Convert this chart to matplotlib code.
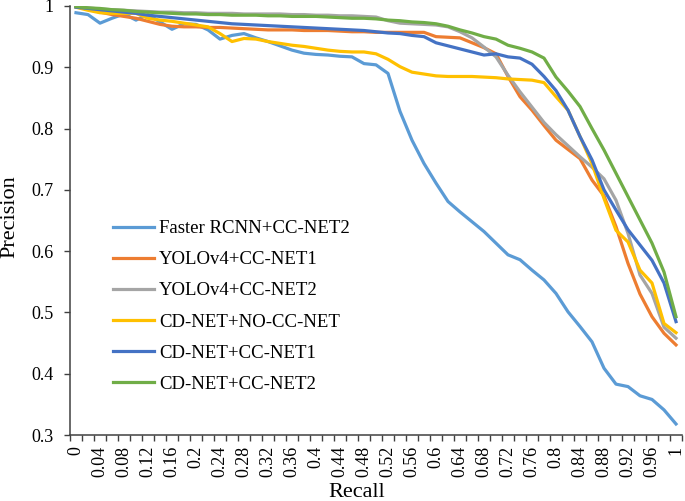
import numpy as np
import matplotlib
matplotlib.use("Agg")
import matplotlib.pyplot as plt

plt.rcParams['font.family'] = ['Liberation Serif', 'DejaVu Serif']

# recall categories 0, 0.02, ..., 1
recall = ['0', '0.02', '0.04', '0.06', '0.08', '0.1', '0.12', '0.14', '0.16', '0.18',
          '0.2', '0.22', '0.24', '0.26', '0.28', '0.3', '0.32', '0.34', '0.36', '0.38',
          '0.4', '0.42', '0.44', '0.46', '0.48', '0.5', '0.52', '0.54', '0.56', '0.58',
          '0.6', '0.62', '0.64', '0.66', '0.68', '0.7', '0.72', '0.74', '0.76', '0.78',
          '0.8', '0.82', '0.84', '0.86', '0.88', '0.9', '0.92', '0.94', '0.96', '0.98', '1']

faster_cc2 = [0.989, 0.986, 0.972, 0.980, 0.987, 0.977, 0.986, 0.974, 0.962, 0.971,
              0.970, 0.961, 0.946, 0.952, 0.955, 0.948, 0.942, 0.935, 0.928, 0.923,
              0.921, 0.920, 0.918, 0.917, 0.906, 0.904, 0.890, 0.828, 0.781, 0.743,
              0.711, 0.681, 0.664, 0.648, 0.632, 0.613, 0.594, 0.586, 0.569, 0.553,
              0.531, 0.501, 0.477, 0.452, 0.409, 0.383, 0.379, 0.364, 0.358, 0.341, 0.318]

yolo_cc1 = [0.999, 0.995, 0.990, 0.986, 0.983, 0.980, 0.975, 0.970, 0.967, 0.966,
            0.966, 0.965, 0.965, 0.964, 0.963, 0.962, 0.961, 0.961, 0.961, 0.960,
            0.960, 0.960, 0.959, 0.958, 0.958, 0.957, 0.957, 0.957, 0.957, 0.957,
            0.950, 0.949, 0.948, 0.940, 0.932, 0.922, 0.885, 0.852, 0.830, 0.805,
            0.781, 0.766, 0.751, 0.716, 0.690, 0.640, 0.580, 0.530, 0.493, 0.466, 0.447]

yolo_cc2 = [0.999, 0.997, 0.995, 0.994, 0.993, 0.992, 0.991, 0.990, 0.990, 0.989,
            0.989, 0.988, 0.988, 0.988, 0.987, 0.987, 0.987, 0.987, 0.986, 0.986,
            0.985, 0.985, 0.984, 0.984, 0.983, 0.982, 0.976, 0.972, 0.971, 0.970,
            0.969, 0.966, 0.958, 0.948, 0.933, 0.917, 0.887, 0.860, 0.835, 0.810,
            0.790, 0.772, 0.754, 0.737, 0.718, 0.683, 0.629, 0.561, 0.531, 0.476, 0.458]

cdnet_nocc = [0.998, 0.993, 0.989, 0.988, 0.988, 0.988, 0.980, 0.977, 0.975, 0.972,
              0.969, 0.966, 0.955, 0.942, 0.947, 0.946, 0.942, 0.939, 0.936, 0.934,
              0.931, 0.928, 0.926, 0.925, 0.925, 0.922, 0.913, 0.901, 0.892, 0.889,
              0.886, 0.885, 0.885, 0.885, 0.884, 0.883, 0.881, 0.880, 0.879, 0.875,
              0.852, 0.830, 0.787, 0.743, 0.686, 0.634, 0.615, 0.569, 0.548, 0.482, 0.467]

cdnet_cc1 = [0.998, 0.996, 0.994, 0.992, 0.990, 0.988, 0.985, 0.983, 0.981, 0.979,
             0.977, 0.975, 0.973, 0.971, 0.970, 0.969, 0.968, 0.967, 0.966, 0.965,
             0.964, 0.963, 0.962, 0.961, 0.960, 0.958, 0.956, 0.955, 0.952, 0.950,
             0.940, 0.935, 0.930, 0.925, 0.920, 0.922, 0.917, 0.915, 0.905, 0.885,
             0.862, 0.830, 0.787, 0.749, 0.700, 0.667, 0.635, 0.610, 0.585, 0.548, 0.485]

cdnet_cc2 = [0.999, 0.997, 0.996, 0.994, 0.993, 0.991, 0.990, 0.989, 0.988, 0.987,
             0.987, 0.986, 0.986, 0.985, 0.985, 0.985, 0.984, 0.984, 0.983, 0.983,
             0.983, 0.982, 0.981, 0.980, 0.980, 0.979, 0.977, 0.976, 0.974, 0.973,
             0.971, 0.967, 0.961, 0.956, 0.950, 0.946, 0.936, 0.931, 0.925, 0.915,
             0.884, 0.861, 0.836, 0.800, 0.765, 0.727, 0.689, 0.651, 0.613, 0.566, 0.493]

names = ['Faster RCNN+CC-NET2', 'YOLOv4+CC-NET1', 'YOLOv4+CC-NET2',
         'CD-NET+NO-CC-NET', 'CD-NET+CC-NET1', 'CD-NET+CC-NET2']
series = [faster_cc2, yolo_cc1, yolo_cc2, cdnet_nocc, cdnet_cc1, cdnet_cc2]
colors = ['#5B9BD5', '#ED7D31', '#A5A5A5', '#FFC000', '#4472C4', '#70AD47']

fig = plt.figure(figsize=(6.85, 5.01), dpi=100)
ax = fig.add_axes([70/685, 66/501, 612/685, 429/501])

x = np.arange(len(recall))
for vals, name, c in zip(series, names, colors):
    ax.plot(x, vals, color=c, lw=2.3, label=name, solid_joinstyle='round')

ax.set_xlim(-0.5, len(recall) - 0.5)
ax.set_ylim(0.3, 1.0)

# category axis: marks between categories, labels on every other one
ax.set_xticks(x[::2])
ax.set_xticklabels(recall[::2], rotation=90, fontsize=13)
ax.set_xticks(np.arange(-0.5, len(recall)), minor=True)
ax.tick_params(axis='x', which='major', length=0, pad=8)
ax.tick_params(axis='x', which='minor', length=4, width=1, color='#404040')

ax.set_yticks(np.arange(0.3, 1.01, 0.1))
ax.set_yticklabels(['0.3', '0.4', '0.5', '0.6', '0.7', '0.8', '0.9', '1'], fontsize=13)
ax.tick_params(axis='y', length=4, width=1, color='#404040', pad=8)

for s in ['top', 'right']:
    ax.spines[s].set_visible(False)
for s in ['left', 'bottom']:
    ax.spines[s].set_color('#404040')
    ax.spines[s].set_linewidth(1.1)

fig.text(357/685, 4/501, 'Recall', fontsize=16, ha='center', va='baseline')
fig.text(10/685, (501 - 217)/501, 'Precision', fontsize=16, ha='center', va='center',
         rotation=90)

ax.legend(loc='center left', bbox_to_anchor=(113/685, (501 - 306.5)/501),
          bbox_transform=fig.transFigure, frameon=False, fontsize=13.5,
          handlelength=2.2, handletextpad=0.25, labelspacing=0.75,
          borderpad=0, borderaxespad=0)

fig.savefig('out.png', dpi=100)
